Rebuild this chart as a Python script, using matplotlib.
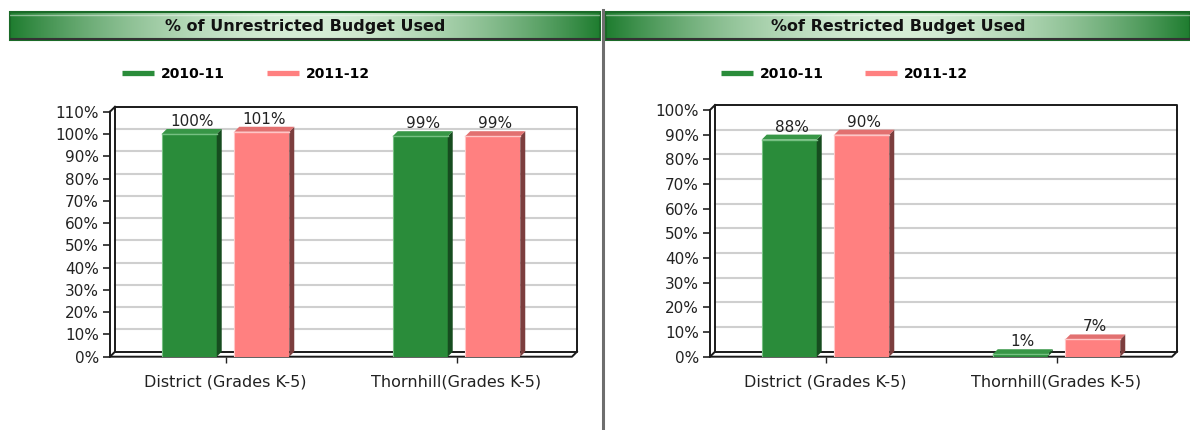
import numpy as np
import matplotlib
matplotlib.use("Agg")
import matplotlib.pyplot as plt
from matplotlib.patches import Polygon, Rectangle
from matplotlib.lines import Line2D
from matplotlib.colors import to_rgb

W, H = 1190, 430

categories = ["District (Grades K-5)", "Thornhill(Grades K-5)"]
seasons = ["2010-11", "2011-12"]
unrestricted_1011 = [100, 99]
unrestricted_1112 = [101, 99]
restricted_1011 = [88, 1]
restricted_1112 = [90, 7]

GREEN = dict(front="#2a8c3a", side="#164c1f", top="#379646", hi="#76c082")
PINK = dict(front="#ff8080", side="#7c3e3e", top="#e27070", hi="#ffc6c6")

fig = plt.figure(figsize=(W / 100, H / 100), dpi=100)
fig.patch.set_facecolor("white")


def px_axes(x0, y0, x1, y1):
    # pixel box (top-left origin) -> figure fraction axes
    return fig.add_axes([x0 / W, 1 - y1 / H, (x1 - x0) / W, (y1 - y0) / H])


def title_bar(x0, x1, text):
    tax = px_axes(x0, 12, x1, 40)
    t = np.linspace(0, 1, 400)
    k = np.clip(np.abs(t - 0.5) * 2, 0, 1) ** 1.8
    dark, pale = np.array(to_rgb("#1f7d30")), np.array(to_rgb("#d6edd6"))
    grad = pale[None, :] * (1 - k[:, None]) + dark[None, :] * k[:, None]
    tax.imshow(grad[None, :, :], aspect="auto", extent=[0, 1, 0, 1])
    tax.add_patch(Rectangle((0, 0), 1, 1, fill=False, ec="#1a6a28", lw=1.5,
                            transform=tax.transAxes, clip_on=False))
    tax.plot([0, 1], [0.9, 0.9], color="white", alpha=0.45, lw=1)
    tax.plot([0, 1], [0.02, 0.02], color="#333333", lw=1.5)
    tax.text(0.5, 0.5, text, ha="center", va="center", fontsize=11.5,
             fontweight="bold", color="#111111")
    tax.set_xlim(0, 1); tax.set_ylim(0, 1)
    tax.axis("off")


def bar3d(ax, x, w, v, c, dx, dy):
    x0, x1 = x - w / 2, x + w / 2
    ax.bar(x, v, w, color=c["front"], lw=0, zorder=3)
    ax.add_patch(Polygon([(x1, 0), (x1 + dx, dy), (x1 + dx, v + dy), (x1, v)],
                         closed=True, fc=c["side"], lw=0, zorder=3))
    ax.add_patch(Polygon([(x0, v), (x0 + dx, v + dy), (x1 + dx, v + dy), (x1, v)],
                         closed=True, fc=c["top"], lw=0, zorder=3, clip_on=False))
    ax.plot([x0, x1], [v, v], color=c["hi"], lw=1, zorder=4, clip_on=False)
    ax.plot([x0, x0], [0, v], color=c["hi"], lw=0.8, zorder=4)
    ax.text(x + dx / 2, v + dy, f"{v}%", ha="center", va="bottom", fontsize=11,
            color="#222222", zorder=5)


def panel(left, top, ymax, vals_a, vals_b, legend_x):
    bottom = 356.7
    ax = px_axes(left, top, left + 462, bottom)
    ax.set_xlim(-0.5, 1.5)
    ax.set_ylim(0, ymax)
    ax.patch.set_alpha(0)
    for s in ax.spines.values():
        s.set_visible(False)

    dx = 5 / 231
    dy = 5 * ymax / (bottom - top)

    # back wall, grid and box edges
    gx = [-0.5 + dx, 1.5 + dx]
    for g in range(10, ymax, 10):
        ax.plot(gx, [g + dy, g + dy], color="#cfcfcf", lw=1.5, zorder=1, clip_on=False)
    edge = dict(color="#1a1a1a", lw=1.4, zorder=2, clip_on=False)
    ax.plot([gx[0], gx[1], gx[1], gx[0], gx[0]],
            [dy, dy, ymax + dy, ymax + dy, dy], **edge)
    ax.plot([-0.5, -0.5, 1.5, 1.5 + dx], [ymax, 0, 0, dy], **edge)
    ax.plot([-0.5, gx[0]], [ymax, ymax + dy], **edge)
    ax.plot([-0.5, gx[0]], [0, dy], **edge)

    w, off = 0.238, 0.157
    for i in range(len(categories)):
        bar3d(ax, i - off, w, vals_a[i], GREEN, dx, dy)
        bar3d(ax, i + off, w, vals_b[i], PINK, dx, dy)

    ax.set_yticks(range(0, ymax + 1, 10))
    ax.set_yticklabels([f"{t}%" for t in range(0, ymax + 1, 10)])
    ax.set_xticks(range(len(categories)))
    ax.set_xticklabels(categories)
    ax.tick_params(axis="y", length=5, width=1.2, pad=3, labelsize=11,
                   color="#222222", labelcolor="#222222")
    ax.tick_params(axis="x", length=4, width=1, pad=9, labelsize=11.5,
                   color="#222222", labelcolor="#222222")

    handles = [Line2D([], [], color=GREEN["front"], lw=3.8, solid_capstyle="butt"),
               Line2D([], [], color=PINK["front"], lw=3.8, solid_capstyle="butt")]
    ly = (bottom - 74) / (bottom - top)
    ax.legend(handles, seasons, loc="center left", bbox_to_anchor=(legend_x, ly),
              ncol=2, frameon=False, borderpad=0, borderaxespad=0,
              handlelength=2.3, handletextpad=0.5, columnspacing=3.0,
              prop=dict(weight="bold", size=10))
    return ax


title_bar(10, 600, "% of Unrestricted Budget Used")
title_bar(606, 1190, "%of Restricted Budget Used")

panel(110, 111.7, 110, unrestricted_1011, unrestricted_1112, 12 / 462)
panel(710, 110.0, 100, restricted_1011, restricted_1112, 10.7 / 462)

# divider between the two panels
fig.add_artist(Line2D([602.5 / W, 602.5 / W], [0, 1 - 10 / H], color="#6e6e6e", lw=2.2))

fig.savefig("out.png", dpi=100)
